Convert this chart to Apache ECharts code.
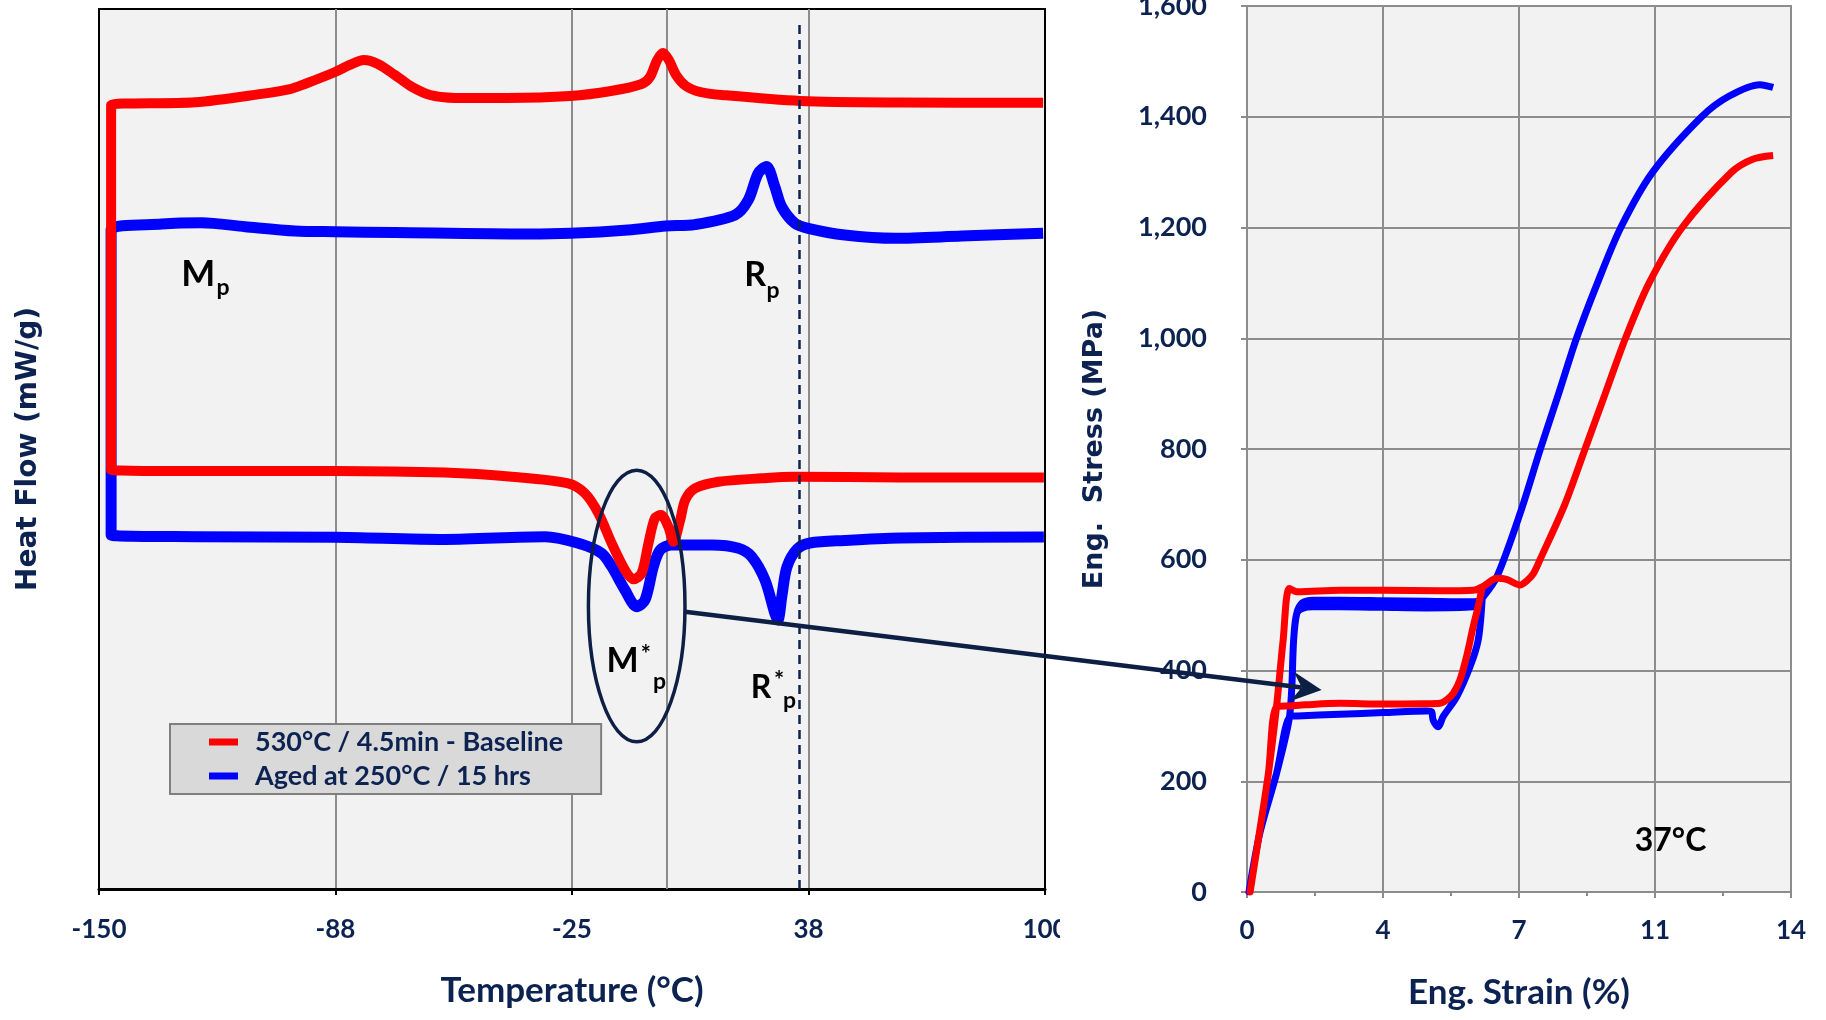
<!DOCTYPE html>
<html>
<head>
<meta charset="utf-8">
<script src="https://cdn.jsdelivr.net/npm/echarts/dist/echarts.min.js"></script>
<style>
html,body{margin:0;padding:0;background:#ffffff;}
#chart{width:1826px;height:1020px;}
</style>
</head>
<body>
<div id="chart"></div>
<script>
// ---------------- data ----------------
const seriesNames = ['530°C / 4.5min - Baseline', 'Aged at 250°C / 15 hrs'];

// DSC x-axis tick values (labels are rounded)
const tempTicks = [-150, -87.5, -25, 37.5, 100];
const zeroTempLine = 0;
const testTemp = 35;   // dashed reference line

// DSC curve, baseline condition (red): lower (cooling) branch, then upper (heating) branch
const dscRedT = [99.7, 61.7, 33.9, 25.1, 13.7, 7.5, 4.9, 3.6, 1.8, 0.45, -1.5, -3.1, -4.8, -6.6, -8.8, -11.0, -14.5, -18.0, -21.6, -26.0, -40.9, -58.6, -87.6, -124.6,
  -146.8, -146.8, -146.8, -146.8,
  -124.6, -107.0, -99.5, -95.6, -87.6, -83.7, -80.0, -76.3, -71.8, -67.3, -62.5, -55.9, -42.2, -25.5, -14.7, -6.6, -4.4, -2.5, -0.95, 0.6, 2.5, 5.1, 8.9, 14.6, 35.3, 61.7, 99.5];
const dscRedHF = [46.76, 46.76, 46.85, 46.67, 46.28, 45.53, 44.2, 41.93, 39.47, 41.17, 42.5, 42.13, 39.28, 35.88, 35.19, 36.25, 39.28, 42.69, 44.97, 46.1, 46.85, 47.32, 47.5, 47.5,
  47.61, 47.61, 89.09, 89.09,
  89.4, 90.36, 90.9, 91.48, 92.84, 93.64, 94.2, 93.75, 92.5, 91.14, 90.23, 89.89, 89.89, 90.11, 90.68, 91.48, 92.27, 94.2, 95.0, 94.2, 92.5, 91.25, 90.57, 90.23, 89.55, 89.38, 89.35];

// DSC curve, aged condition (blue)
const dscBlueT = [99.7, 61.7, 47.0, 37.9, 34.5, 31.8, 30.5, 29.4, 28.6, 26.0, 22.5, 19.0, 11.9, 1.3, -1.7, -3.5, -5.7, -7.9, -11.0, -14.5, -17.2, -23.3, -32.1, -58.6, -87.6, -124.6,
  -146.8, -146.8, -146.8, -146.8,
  -133.4, -122.9, -111.4, -98.2, -87.6, -71.8, -36.6, -25.5, -10.2, -0.2, 7.5, 18.1, 21.6, 24.2, 26.4, 28.6, 30.4, 33.9, 37.4, 47.1, 60.4, 78.0, 99.5];
const dscBlueHF = [40.0, 39.89, 39.61, 39.32, 38.64, 36.59, 33.4, 30.57, 31.33, 35.11, 37.76, 38.72, 39.09, 39.09, 38.52, 36.63, 32.84, 32.08, 33.98, 36.63, 38.15, 39.28, 40.03, 39.72, 39.97, 40.03,
  40.23, 40.23, 74.89, 74.89,
  75.57, 75.72, 75.26, 74.77, 74.69, 74.6, 74.43, 74.51, 74.89, 75.34, 75.5, 76.59, 78.3, 81.33, 82.1, 79.81, 77.53, 75.65, 75.08, 74.32, 73.94, 74.2, 74.51];

// Stress-strain at 37°C: load, unload, reload to failure
const ssRedStrain = [0.08, 0.29, 0.55, 0.76, 0.93, 1.09, 1.09, 1.3, 2.39, 3.51, 4.97, 5.82, 6.05, 6.05, 5.93, 5.82, 5.65, 5.48, 5.31, 5.14, 4.97, 4.5, 3.51, 2.39, 1.5, 1.1, 0.76, 0.55, 0.29, 0.08,
  0.08, 0.29, 0.55, 0.76, 0.93, 1.09, 1.09, 1.3, 2.39, 3.51, 4.97, 5.82, 6.1, 6.43, 6.68, 7.03, 7.2, 7.37, 7.54, 8.18, 8.7, 9.22, 9.74, 10.35, 11.2, 12.47, 13.0, 13.54];
const ssRedStress = [0, 94, 214, 335, 455, 548, 548, 542, 545, 545, 544, 545, 548, 548, 510, 479, 425, 383, 359, 347, 341, 340, 339.5, 340.7, 338, 336, 334.6, 214, 94, 0,
  0, 94, 214, 335, 455, 548, 548, 542, 545, 545, 544, 545, 553, 566.5, 564.6, 554.4, 562, 575, 600, 700, 800, 900, 1000, 1100, 1200, 1300, 1323, 1330];

const ssBlueStrain = [0.05, 0.33, 0.76, 1.08, 1.15, 1.2, 1.28, 1.42, 1.7, 2.39, 3.51, 4.62, 5.82, 6.05, 6.05, 5.95, 5.74, 5.4, 5.05, 4.92, 4.92, 4.79, 4.75, 4.62, 3.51, 2.39, 1.3, 1.11, 1.11, 0.76, 0.33, 0.05,
  0.05, 0.33, 0.76, 1.08, 1.15, 1.2, 1.28, 1.42, 1.7, 2.39, 3.51, 4.62, 5.82, 6.08, 6.43, 7.03, 7.55, 8.02, 8.48, 9.02, 9.62, 10.44, 11.7, 12.4, 13.2, 13.54];
const ssBlueStress = [0, 106, 214, 310, 365, 455, 503, 522, 527, 527, 526, 525, 524, 527, 527, 455, 407, 353, 317, 298.5, 298.5, 310.6, 325.6, 327, 324, 321, 318, 317, 317, 214, 106, 0,
  0, 106, 214, 310, 365, 455, 503, 512, 515, 515, 514, 513, 515, 533, 569, 684, 800, 900, 1000, 1100, 1200, 1300, 1400, 1437, 1458, 1453];

// ---------------- annotations (in data units) ----------------
const dscLabels = [
  {text: 'M', T: -123.8, hf: 69.8, size: 36},
  {text: 'p', T: -117.2, hf: 68.4, size: 23},
  {text: 'R', T: 23.4, hf: 69.8, size: 34},
  {text: 'p', T: 28.1, hf: 68.0, size: 23},
  {text: 'M', T: -11.65, hf: 25.85, size: 34},
  {text: '*', T: -5.5, hf: 26.6, size: 24},
  {text: 'p', T: -1.9, hf: 23.6, size: 23},
  {text: 'R', T: 24.95, hf: 22.9, size: 32},
  {text: '*', T: 29.7, hf: 23.64, size: 24},
  {text: 'p', T: 32.5, hf: 21.4, size: 23}
];
const ellipseCenter = [-7.9, 32.16];
const ellipseRadii = [12.76, 15.43];
const arrowFrom = [4.86, 31.51];     // DSC coordinates
const arrowTo = [1.92, 364.8];       // stress-strain coordinates
const testLabel = {text: '37°C', strain: 10.9, stress: 92};

// ---------------- chart ----------------
const navy = '#0c2352';
const gridGray = '#8c8c8c';
const zip = (a, b) => a.map((x, i) => [x, b[i]]);
const tickFont = {fontFamily: 'Lato', fontWeight: 'bold', fontSize: 26, color: navy};
const titleFont = {fontFamily: 'Lato', fontWeight: 'bold', fontSize: 35, color: navy};
const vTitleFont = {fontFamily: 'DejaVu Sans', fontWeight: 'bold', fontSize: 28, color: navy};

const chart = echarts.init(document.getElementById('chart'), null, {renderer: 'canvas'});

const option = {
  animation: false,
  backgroundColor: '#ffffff',
  grid: [
    {left: 99, top: 9, width: 946, height: 880, show: true, backgroundColor: '#f2f2f2', borderColor: '#000000', borderWidth: 2, containLabel: false, outerBoundsMode: 'none'},
    {left: 1247, top: 6, width: 544, height: 886, show: true, backgroundColor: '#f2f2f2', borderColor: gridGray, borderWidth: 2, containLabel: false, outerBoundsMode: 'none'}
  ],
  xAxis: [
    {
      gridIndex: 0, type: 'value', min: -150, max: 100, interval: 62.5,
      axisLine: {show: true, onZero: false, lineStyle: {color: '#000000', width: 3}},
      axisTick: {show: true, length: 6, customValues: tempTicks, lineStyle: {color: '#000000', width: 2}},
      axisLabel: Object.assign({show: true, margin: 28, customValues: tempTicks, showMinLabel: true, showMaxLabel: true,
        formatter: v => String(Math.sign(v) * Math.round(Math.abs(v)))}, tickFont),
      splitLine: {show: true, showMinLine: false, showMaxLine: false, lineStyle: {color: gridGray, width: 2}},
      name: 'Temperature (°C)', nameLocation: 'middle', nameGap: 84, nameTextStyle: titleFont
    },
    {
      gridIndex: 1, type: 'value', min: 0, max: 14, interval: 3.5,
      axisLine: {show: true, onZero: false, lineStyle: {color: gridGray, width: 2}},
      axisTick: {show: true, length: 6, lineStyle: {color: gridGray, width: 2}},
      minorTick: {show: true, splitNumber: 2, length: 4, lineStyle: {color: gridGray, width: 2}},
      axisLabel: Object.assign({show: true, margin: 26, showMinLabel: true, showMaxLabel: true,
        formatter: v => String(Math.round(v))}, tickFont),
      splitLine: {show: true, lineStyle: {color: gridGray, width: 2}},
      name: 'Eng. Strain (%)', nameLocation: 'middle', nameGap: 83, nameTextStyle: titleFont
    }
  ],
  yAxis: [
    {
      gridIndex: 0, type: 'value', min: 0, max: 100,
      axisLine: {show: false}, axisTick: {show: false}, axisLabel: {show: false}, splitLine: {show: false},
      name: 'Heat Flow (mW/g)', nameLocation: 'middle', nameGap: 56, nameRotate: 90, nameTextStyle: vTitleFont
    },
    {
      gridIndex: 1, type: 'value', min: 0, max: 1600, interval: 200,
      axisLine: {show: true, onZero: false, lineStyle: {color: gridGray, width: 2}},
      axisTick: {show: true, length: 6, lineStyle: {color: gridGray, width: 2}},
      axisLabel: Object.assign({show: true, margin: 40, showMinLabel: true, showMaxLabel: true,
        formatter: v => Math.round(v).toString().replace(/\B(?=(\d{3})+(?!\d))/g, ',')}, tickFont, {fontSize: 27}),
      splitLine: {show: true, lineStyle: {color: gridGray, width: 2}},
      name: 'Eng.  Stress (MPa)', nameLocation: 'middle', nameGap: 139, nameRotate: 90, nameTextStyle: Object.assign({}, vTitleFont, {fontSize: 27})
    }
  ],
  legend: {
    show: true, orient: 'vertical', left: 170, top: 724,
    data: seriesNames, selectedMode: false,
    backgroundColor: '#d9d9d9', borderColor: '#7f7f7f', borderWidth: 2, borderRadius: 0,
    padding: [3, 38, 3, 39], itemGap: 4, itemWidth: 29, itemHeight: 7, icon: 'rect',
    textStyle: {fontFamily: 'Lato', fontWeight: 'bold', fontSize: 27, color: navy, lineHeight: 30, padding: [0, 0, 0, 12]}
  },
  series: [
    {
      name: seriesNames[1], type: 'line', xAxisIndex: 0, yAxisIndex: 0, z: 2,
      data: zip(dscBlueT, dscBlueHF), symbol: 'none', showSymbol: false, smooth: 0.3,
      lineStyle: {color: '#0000ff', width: 11, join: 'round'}, itemStyle: {color: '#0000ff'},
      markLine: {silent: true, z: 1, symbol: ['none', 'none'], label: {show: false}, animation: false,
        data: [{xAxis: zeroTempLine, lineStyle: {color: gridGray, width: 2, type: 'solid'}}]}
    },
    {
      name: seriesNames[0], type: 'line', xAxisIndex: 0, yAxisIndex: 0, z: 3,
      data: zip(dscRedT, dscRedHF), symbol: 'none', showSymbol: false, smooth: 0.3,
      lineStyle: {color: '#ff0000', width: 10, join: 'round'}, itemStyle: {color: '#ff0000'},
      markLine: {silent: true, z: 6, symbol: ['none', 'none'], label: {show: false}, animation: false,
        data: [[{coord: [testTemp, 0], lineStyle: {color: navy, width: 2.5, type: [9, 6]}}, {coord: [testTemp, 98.5]}]]}
    },
    {
      name: seriesNames[1], type: 'line', xAxisIndex: 1, yAxisIndex: 1, z: 2,
      data: zip(ssBlueStrain, ssBlueStress), symbol: 'none', showSymbol: false, smooth: 0.3,
      lineStyle: {color: '#0000ff', width: 7, join: 'round'}, itemStyle: {color: '#0000ff'}
    },
    {
      name: seriesNames[0], type: 'line', xAxisIndex: 1, yAxisIndex: 1, z: 3,
      data: zip(ssRedStrain, ssRedStress), symbol: 'none', showSymbol: false, smooth: 0.3,
      lineStyle: {color: '#ff0000', width: 7, join: 'round'}, itemStyle: {color: '#ff0000'}
    }
  ]
};
chart.setOption(option);

// ---------------- annotation graphics, placed through the axes ----------------
const toPx = (gi, p) => chart.convertToPixel({xAxisIndex: gi, yAxisIndex: gi}, p);
const graphics = [];
dscLabels.forEach(l => {
  const p = toPx(0, [l.T, l.hf]);
  graphics.push({type: 'text', x: p[0], y: p[1], z: 20,
    style: {text: l.text, fill: '#000000', fontFamily: 'Lato', fontWeight: 'bold', fontSize: l.size, align: 'center', verticalAlign: 'middle'}});
});
const c = toPx(0, ellipseCenter);
const c2 = toPx(0, [ellipseCenter[0] + ellipseRadii[0], ellipseCenter[1] + ellipseRadii[1]]);
graphics.push({type: 'ellipse', z: 20, shape: {cx: c[0], cy: c[1], rx: Math.abs(c2[0] - c[0]), ry: Math.abs(c2[1] - c[1])},
  style: {fill: 'none', stroke: '#0d1f45', lineWidth: 3.5}});
const a0 = toPx(0, arrowFrom);
const a1 = toPx(1, arrowTo);
const ang = Math.atan2(a1[1] - a0[1], a1[0] - a0[0]);
const rot = (u, w) => [a1[0] + u * Math.cos(ang) - w * Math.sin(ang), a1[1] + u * Math.sin(ang) + w * Math.cos(ang)];
const notch = rot(-20, 0);
graphics.push({type: 'line', z: 20, shape: {x1: a0[0], y1: a0[1], x2: notch[0], y2: notch[1]},
  style: {stroke: '#0d1f45', lineWidth: 4.5}});
graphics.push({type: 'polygon', z: 21, shape: {points: [rot(0, 0), rot(-30, -15), notch, rot(-30, 15)]},
  style: {fill: '#0d1f45'}});
const tp = toPx(1, [testLabel.strain, testLabel.stress]);
graphics.push({type: 'text', x: tp[0], y: tp[1], z: 20,
  style: {text: testLabel.text, fill: '#000000', fontFamily: 'Lato', fontWeight: 'bold', fontSize: 32, align: 'center', verticalAlign: 'middle'}});
// the source figure is cropped just right of the first panel's last tick label
graphics.push({type: 'rect', z: 50, shape: {x: 1060, y: 905, width: 60, height: 55}, style: {fill: '#ffffff'}});
chart.setOption({graphic: graphics});
</script>
</body>
</html>
